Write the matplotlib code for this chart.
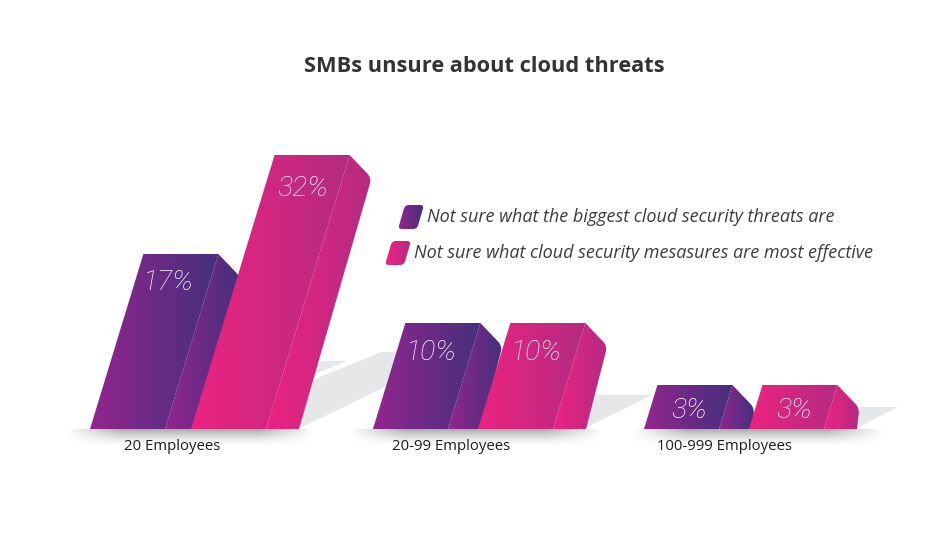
import numpy as np
import matplotlib
matplotlib.use('Agg')
import matplotlib.pyplot as plt
from matplotlib.path import Path
from matplotlib.patches import PathPatch, Polygon

categories = ['20 Employees', '20-99 Employees', '100-999 Employees']
biggest_threats = [17, 10, 3]
effective_measures = [32, 10, 3]
legend_labels = ['Not sure what the biggest cloud security threats are',
                 'Not sure what cloud security mesasures are most effective']
title = 'SMBs unsure about cloud threats'

# the picture is not to scale, so the value axis is piecewise
scale_values = [0, 3, 10, 17, 32, 60]
scale_pixels = [0, 44, 106, 175, 274, 429]

W, H = 936, 539
BASE = 429
SLANT = 0.305
FRONT_W = 75
SIDE_W = 33

purple_x = [90, 373, 644]
pink_x = [191, 478, 749]
label_x = [172, 451, 724]
# hand placed offsets of the value labels
purple_nudge = [(0, 0), (1, 1), (7, -2)]
pink_nudge = [(3, 5), (1, 1), (7, -2)]

PURPLE = ('#93258F', '#45307C')
PINK = ('#EC2380', '#B52B82')
TEXT = '#3c3c3e'

plt.rcParams['font.family'] = ['Open Sans', 'DejaVu Sans']

fig = plt.figure(figsize=(W / 100, H / 100), dpi=100)
ax = fig.add_axes([0, 0, 1, 1])
ax.set_axis_off()

# invisible axis holding the value scale, bottom edge on the baseline
val_ax = fig.add_axes([0, (H - BASE) / H, 1, BASE / H])
val_ax.set_yscale('function', functions=(
    lambda v: np.interp(v, scale_values, scale_pixels),
    lambda p: np.interp(p, scale_pixels, scale_values)))
val_ax.set_ylim(0, 60)
val_ax.set_axis_off()


def top_of(v):
    return H - val_ax.transData.transform((0, v))[1]


def rounded(points, radii):
    # closed path, corners cut with a quadratic curve
    verts, codes = [], []
    n = len(points)
    for i in range(n):
        p = np.array(points[i], float)
        r = radii[i]
        if r == 0:
            verts.append(p)
            codes.append(Path.LINETO)
            continue
        a = np.array(points[i - 1], float)
        b = np.array(points[(i + 1) % n], float)
        p1 = p + (a - p) / np.linalg.norm(a - p) * r
        p2 = p + (b - p) / np.linalg.norm(b - p) * r
        verts += [p1, p, p2]
        codes += [Path.LINETO, Path.CURVE3, Path.CURVE3]
    codes[0] = Path.MOVETO
    verts.append(verts[0])
    codes.append(Path.CLOSEPOLY)
    return Path(verts, codes)


def gradient(path, colors, z):
    ext = path.get_extents()
    c0 = np.array(matplotlib.colors.to_rgb(colors[0]))
    c1 = np.array(matplotlib.colors.to_rgb(colors[1]))
    t = np.linspace(0, 1, 128)[None, :, None]
    im = ax.imshow(c0 + (c1 - c0) * t, extent=(ext.x0, ext.x1, ext.y1, ext.y0),
                   aspect='auto', zorder=z, interpolation='bilinear')
    im.set_clip_path(PathPatch(path, transform=ax.transData))


def bar(x, v, colors, z, nudge):
    top = top_of(v)
    h = BASE - top
    tx = x + SLANT * h
    front = rounded([(x, BASE), (tx, top), (tx + FRONT_W, top), (x + FRONT_W, BASE)], [0, 0, 0, 0])
    side = rounded([(x + FRONT_W, BASE), (tx + FRONT_W, top), (tx + FRONT_W + 22, top + 23),
                    (x + FRONT_W + SIDE_W, BASE)], [0, 0, 6, 0])
    gradient(side, colors, z)
    gradient(front, colors, z + 0.1)
    ax.text(tx + 25 + nudge[0], top + 28 + nudge[1], '%d%%' % v, color='white', fontsize=20.5,
            style='italic', family='Roboto', fontweight='light', ha='center', va='center', zorder=z + 0.2)


def ground(x0, x1):
    xs = np.linspace(0, 1, 240)
    ys = np.linspace(0, 1, 40)
    edge = np.clip(np.minimum(xs, 1 - xs) / 0.22, 0, 1)
    fade = (1 - ys) ** 1.5
    img = np.zeros((40, 240, 4))
    img[..., :3] = 0.35
    img[..., 3] = 0.5 * fade[:, None] * edge[None, :]
    ax.imshow(img, extent=(x0, x1, BASE + 18, BASE), aspect='auto', zorder=1, interpolation='bilinear')


# cast shadows on the floor
shadows = [
    [(250, 400), (323, 361), (347, 361), (250, 401)],
    [(298, 429), (410, 375), (420, 352), (381, 352), (250, 406)],
    [(583, 429), (652, 395), (590, 395)],
    [(855, 429), (898, 407), (855, 407)],
]
for s in shadows:
    ax.add_patch(Polygon(s, closed=True, fc='#E6E7E8', ec='none', zorder=2))

ground(66, 314)
ground(350, 602)
ground(632, 884)

for i in range(3):
    bar(purple_x[i], biggest_threats[i], PURPLE, 3 + 2 * i, purple_nudge[i])
    bar(pink_x[i], effective_measures[i], PINK, 4 + 2 * i, pink_nudge[i])
    ax.text(label_x[i], 446.5, categories[i], color='#1c1c1c', fontsize=10.75,
            ha='center', va='center', zorder=12)

# legend
swatches = [(398, 205), (385, 241)]
for (sx, sy), cols, lab in zip(swatches, (PURPLE, PINK), legend_labels):
    p = rounded([(sx, sy + 24), (sx + 7, sy), (sx + 26, sy), (sx + 19, sy + 24)], [4, 4, 4, 4])
    gradient(p, cols, 12)
    ax.text(sx + 29, sy + 12.5, lab, color=TEXT, fontsize=13, style='italic',
            ha='left', va='center', zorder=12)

ax.text(484, 66, title, color='#333335', fontsize=15.7, fontweight='bold',
        ha='center', va='center', zorder=12)

ax.set_xlim(0, W)
ax.set_ylim(H, 0)

fig.savefig('out.png', dpi=100, facecolor='white')
